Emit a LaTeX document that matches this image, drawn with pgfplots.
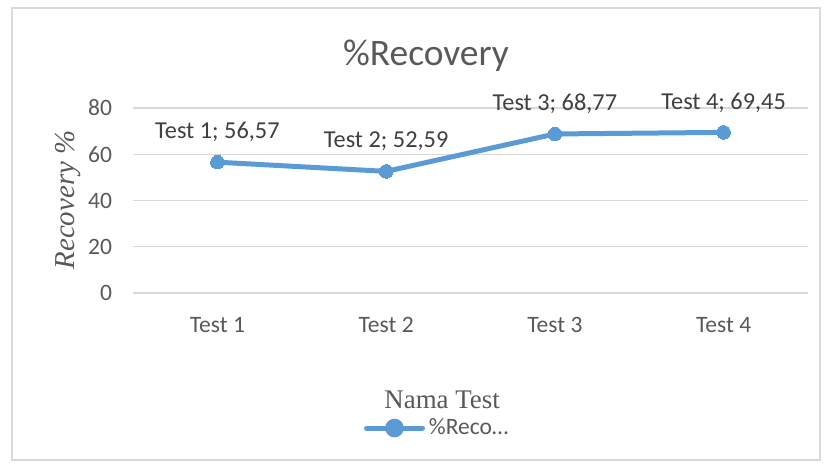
\documentclass[border=0pt]{standalone}
\usepackage{pgfplots}
\usepackage{pgfplotstable}
\pgfplotsset{compat=1.18}
\usepackage{fontspec}
\setmainfont{Carlito}
\newfontfamily\timesf{Liberation Serif}
\definecolor{lineblue}{HTML}{5B9BD5}
\definecolor{txtgray}{HTML}{595959}
\definecolor{gridgray}{HTML}{D9D9D9}
% punctuation that survives pgfplots' point storage and tikz path parsing
\newcommand\dcomma{\char44\relax}
\newcommand\semi{\char59\relax}
\pgfplotstableread[col sep=colon]{
x:y:label
1:56.57:Test 1\semi{} 56\dcomma 57
2:52.59:Test 2\semi{} 52\dcomma 59
3:68.77:Test 3\semi{} 68\dcomma 77
4:69.45:Test 4\semi{} 69\dcomma 45
}\recovery
\begin{document}
\begin{tikzpicture}
\useasboundingbox (0,0) rectangle (414.5bp,232.5bp);
\draw[gridgray, line width=0.6bp] (6bp,2.5bp) rectangle (410bp,228.5bp);
\begin{axis}[
    at={(66.5bp,86bp)}, anchor=south west,
    scale only axis,
    width=337.5bp, height=92.5bp,
    xmin=0.5, xmax=4.5,
    ymin=0, ymax=80,
    xtick={1,2,3,4},
    xticklabels={Test 1,Test 2,Test 3,Test 4},
    ytick={0,20,40,60,80},
    axis line style={draw=none},
    major tick length=0pt,
    ymajorgrids,
    grid style={gridgray, line width=0.6bp},
    /pgf/number format/assume math mode=true,
    tick label style={font=\fontsize{11.8}{13}\selectfont, text=txtgray},
    xticklabel style={yshift=-8.5bp},
    yticklabel style={xshift=-7bp},
    title={\%Recovery},
    title style={at={(axis description cs:0.434,1.216)}, anchor=center,
        font=\fontsize{18.8}{21}\selectfont, text=txtgray},
    xlabel={Nama Test},
    xlabel style={at={(axis description cs:0.458,-0.578)}, anchor=center,
        font=\timesf\fontsize{13.5}{15}\selectfont, text=txtgray},
    ylabel={Recovery \%},
    ylabel style={at={(axis description cs:-0.0963,0.503)}, anchor=center, rotate=0,
        font=\timesf\itshape\fontsize{14.5}{16}\selectfont, text=txtgray},
    legend style={at={(axis description cs:0.452,-0.73)}, anchor=center,
        draw=none, fill=none, font=\fontsize{11.8}{13}\selectfont, text=txtgray,
        inner sep=0pt},
    legend image code/.code={
        \draw[lineblue, line width=2.5bp, line cap=round] (0bp,0bp) -- (28bp,0bp);
        \fill[lineblue] (14bp,0bp) circle (3.4bp);
    },
    clip=false,
]
\addplot[lineblue, line width=2.5bp, mark=*, mark size=3.4bp,
    mark options={fill=lineblue, draw=lineblue, line width=0pt},
    point meta=explicit symbolic,
    nodes near coords={\pgfplotspointmeta},
    every node near coord/.append style={anchor=center, yshift=15bp,
        font=\fontsize{12.2}{14}\selectfont, text=black!75}]
    table[x=x, y=y, meta=label]{\recovery};
\addlegendentry{\%Reco\ldots}
\end{axis}
\end{tikzpicture}
\end{document}
